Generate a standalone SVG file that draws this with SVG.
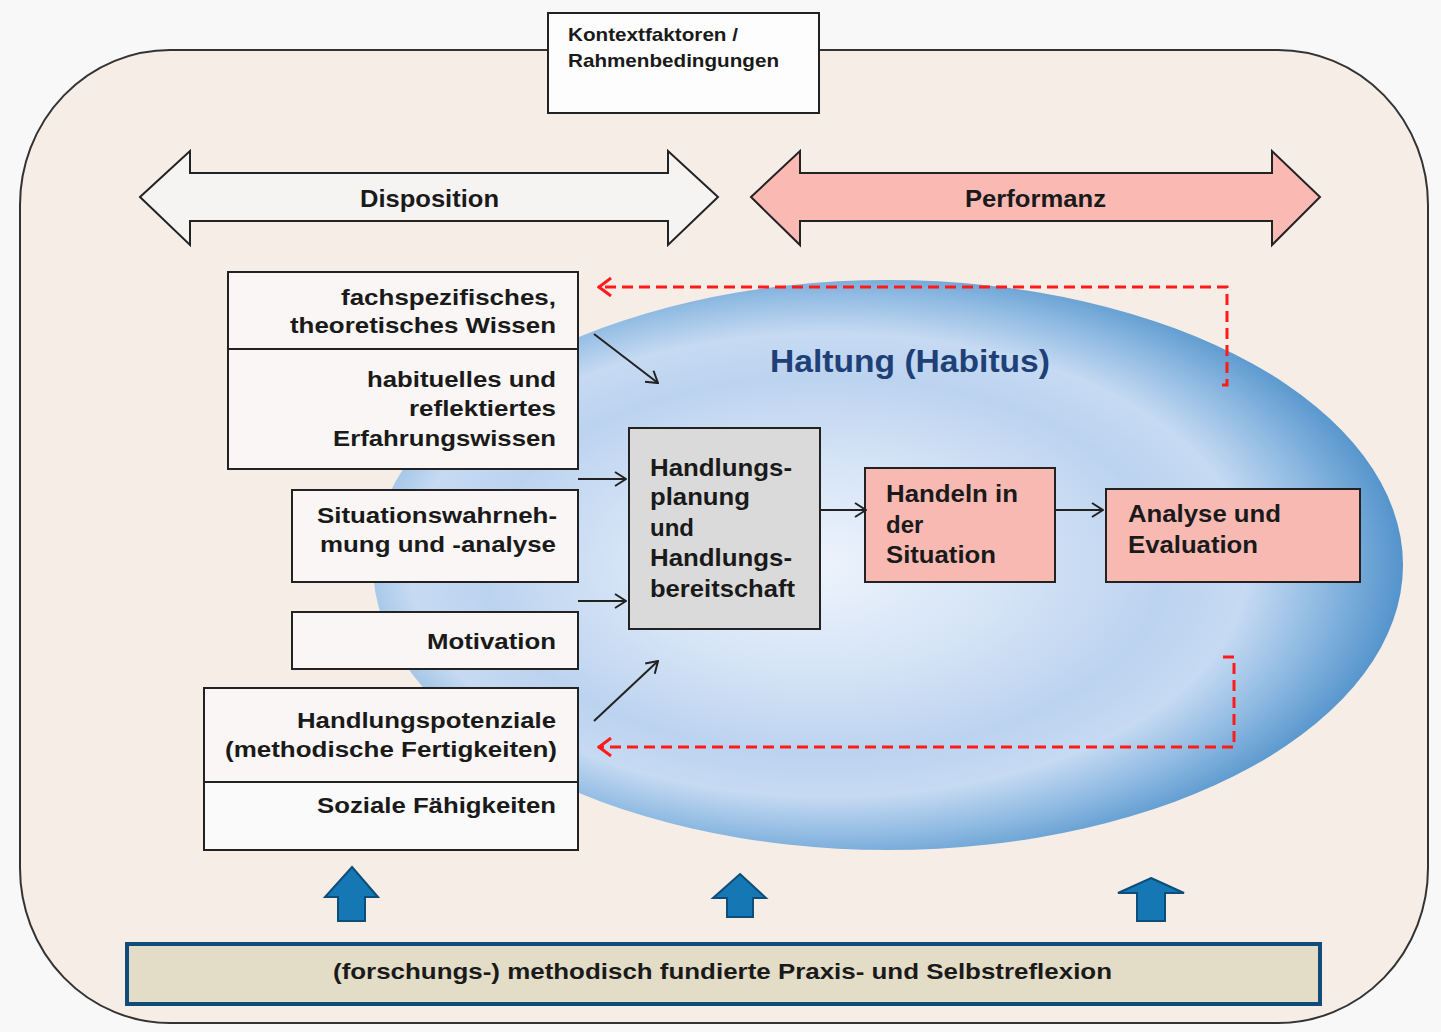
<svg xmlns="http://www.w3.org/2000/svg" width="1441" height="1032" viewBox="0 0 1441 1032">
<defs>
<style>
.t{font-family:"Liberation Sans",Arial,sans-serif;font-weight:bold;fill:#1a1a1a}
.box{stroke:#222;stroke-width:2}
.lb{fill:#faf6f5}
.pk{fill:#f8b9b3}
.con{stroke:#222;stroke-width:2;fill:none}
.red{stroke:#ff1a1a;stroke-width:3;fill:none;stroke-dasharray:11 6}
.blue{fill:#1577b3;stroke:#0d4d7a;stroke-width:2}
.dbl{stroke:#222;stroke-width:2}
</style>
<radialGradient id="hab" cx="0.45" cy="0.5" r="0.55" fx="0.42" fy="0.5">
<stop offset="0" stop-color="#eef4fc"/>
<stop offset="0.35" stop-color="#d4e3f6"/>
<stop offset="0.6" stop-color="#bcd3ef"/>
<stop offset="0.74" stop-color="#c6daf2"/>
<stop offset="0.86" stop-color="#92bce3"/>
<stop offset="1" stop-color="#5494cc"/>
</radialGradient>
<marker id="ah" viewBox="0 0 13 16" refX="12" refY="8" markerWidth="13" markerHeight="16" orient="auto" markerUnits="userSpaceOnUse">
<path d="M1,1 L12,8 L1,15" fill="none" stroke="#222" stroke-width="2"/>
</marker>
<marker id="ahr" viewBox="0 0 15 20" refX="14" refY="10" markerWidth="15" markerHeight="20" orient="auto" markerUnits="userSpaceOnUse">
<path d="M1,1 L13,10 L1,19" fill="none" stroke="#ff1a1a" stroke-width="3"/>
</marker>
</defs>
<rect x="0" y="0" width="1441" height="1032" fill="#f8f8f8"/>
<g id="frame">
<rect x="20" y="50" width="1408" height="973" rx="150" ry="155" fill="#f6ede6" stroke="#333" stroke-width="2"/>
</g>
<g id="kontext">
<rect x="548" y="13" width="271" height="100" fill="#fdfdfd" stroke="#222" stroke-width="2"/>
<text class="t" x="568" y="41" font-size="19" textLength="170" lengthAdjust="spacingAndGlyphs">Kontextfaktoren /</text>
<text class="t" x="568" y="67" font-size="19" textLength="211" lengthAdjust="spacingAndGlyphs">Rahmenbedingungen</text>
</g>
<g id="disposition">
<polygon class="dbl" fill="#f6f3f3" points="140,197 190,151 190,173 668,173 668,151 718,197 668,245 668,221 190,221 190,245"/>
<text class="t" x="360" y="207" font-size="23" textLength="139" lengthAdjust="spacingAndGlyphs">Disposition</text>
</g>
<g id="performanz">
<polygon class="dbl" fill="#fbb9b4" points="751,197 800,151 800,173 1272,173 1272,151 1320,197 1272,245 1272,221 800,221 800,245"/>
<text class="t" x="965" y="207" font-size="23" textLength="141" lengthAdjust="spacingAndGlyphs">Performanz</text>
</g>
<g id="haltung">
<ellipse cx="888" cy="565" rx="515" ry="285" fill="url(#hab)"/>
<text x="770" y="372" font-family="Liberation Sans, Arial, sans-serif" font-weight="bold" font-size="31" fill="#1f3f77" textLength="280" lengthAdjust="spacingAndGlyphs">Haltung (Habitus)</text>
</g>
<g id="fachwissen">
<rect class="box lb" x="228" y="272" width="350" height="77"/>
<text class="t" x="556" y="305" font-size="22" text-anchor="end" textLength="215" lengthAdjust="spacingAndGlyphs">fachspezifisches,</text>
<text class="t" x="556" y="333" font-size="22" text-anchor="end" textLength="266" lengthAdjust="spacingAndGlyphs">theoretisches Wissen</text>
</g>
<g id="erfahrungswissen">
<rect class="box lb" x="228" y="349" width="350" height="120"/>
<text class="t" x="556" y="387" font-size="22" text-anchor="end" textLength="189" lengthAdjust="spacingAndGlyphs">habituelles und</text>
<text class="t" x="556" y="416" font-size="22" text-anchor="end" textLength="147" lengthAdjust="spacingAndGlyphs">reflektiertes</text>
<text class="t" x="556" y="446" font-size="22" text-anchor="end" textLength="223" lengthAdjust="spacingAndGlyphs">Erfahrungswissen</text>
</g>
<g id="situation">
<rect class="box lb" x="292" y="490" width="286" height="92"/>
<text class="t" x="557" y="523" font-size="22" text-anchor="end" textLength="240" lengthAdjust="spacingAndGlyphs">Situationswahrneh-</text>
<text class="t" x="556" y="552" font-size="22" text-anchor="end" textLength="236" lengthAdjust="spacingAndGlyphs">mung und -analyse</text>
</g>
<g id="motivation">
<rect class="box lb" x="292" y="612" width="286" height="57"/>
<text class="t" x="556" y="649" font-size="22" text-anchor="end" textLength="129" lengthAdjust="spacingAndGlyphs">Motivation</text>
</g>
<g id="handlungspotenziale">
<rect class="box lb" x="204" y="688" width="374" height="94"/>
<text class="t" x="556" y="728" font-size="22" text-anchor="end" textLength="259" lengthAdjust="spacingAndGlyphs">Handlungspotenziale</text>
<text class="t" x="557" y="757" font-size="22" text-anchor="end" textLength="332" lengthAdjust="spacingAndGlyphs">(methodische Fertigkeiten)</text>
</g>
<g id="soziale">
<rect class="box" fill="#fbfafa" x="204" y="782" width="374" height="68"/>
<text class="t" x="556" y="813" font-size="22" text-anchor="end" textLength="239" lengthAdjust="spacingAndGlyphs">Soziale Fähigkeiten</text>
</g>
<g id="handlungsplanung">
<rect class="box" fill="#dadada" x="629" y="428" width="191" height="201"/>
<text class="t" x="650" y="476" font-size="24" textLength="142" lengthAdjust="spacingAndGlyphs">Handlungs-</text>
<text class="t" x="650" y="505" font-size="24" textLength="100" lengthAdjust="spacingAndGlyphs">planung</text>
<text class="t" x="650" y="536" font-size="24">und</text>
<text class="t" x="650" y="566" font-size="24" textLength="142" lengthAdjust="spacingAndGlyphs">Handlungs-</text>
<text class="t" x="650" y="597" font-size="24" textLength="145" lengthAdjust="spacingAndGlyphs">bereitschaft</text>
</g>
<g id="handeln">
<rect class="box pk" x="865" y="468" width="190" height="114"/>
<text class="t" x="886" y="502" font-size="24" textLength="132" lengthAdjust="spacingAndGlyphs">Handeln in</text>
<text class="t" x="886" y="533" font-size="24">der</text>
<text class="t" x="886" y="563" font-size="24" textLength="110" lengthAdjust="spacingAndGlyphs">Situation</text>
</g>
<g id="analyse">
<rect class="box pk" x="1106" y="489" width="254" height="93"/>
<text class="t" x="1128" y="522" font-size="24" textLength="153" lengthAdjust="spacingAndGlyphs">Analyse und</text>
<text class="t" x="1128" y="553" font-size="24" textLength="130" lengthAdjust="spacingAndGlyphs">Evaluation</text>
</g>
<g id="connectors">
<line class="con" x1="594" y1="334" x2="658" y2="383" marker-end="url(#ah)"/>
<line class="con" x1="578" y1="479" x2="626" y2="479" marker-end="url(#ah)"/>
<line class="con" x1="578" y1="601" x2="626" y2="601" marker-end="url(#ah)"/>
<line class="con" x1="594" y1="721" x2="658" y2="661" marker-end="url(#ah)"/>
<line class="con" x1="820" y1="510" x2="866" y2="510" marker-end="url(#ah)"/>
<line class="con" x1="1055" y1="510" x2="1103" y2="510" marker-end="url(#ah)"/>
<path class="red" d="M1222,385 L1227,385 L1227,287 L598,287" marker-end="url(#ahr)"/>
<path class="red" d="M1223,657 L1234,657 L1234,747 L598,747" marker-end="url(#ahr)"/>
</g>
<g id="up-arrows">
<polygon class="blue" points="352,867 378,897 365,897 365,921 338,921 338,897 325,897"/>
<polygon class="blue" points="740,874 766,898 753,898 753,917 727,917 727,898 713,898"/>
<polygon class="blue" points="1151,878 1184,893 1165,893 1165,921 1137,921 1137,893 1118,893"/>
</g>
<g id="reflexion">
<rect x="127" y="944" width="1193" height="60" fill="#e3dcc6" stroke="#0f4c7a" stroke-width="4"/>
<text class="t" x="333" y="979" font-size="22" textLength="779" lengthAdjust="spacingAndGlyphs">(forschungs-) methodisch fundierte Praxis- und Selbstreflexion</text>
</g>
</svg>
